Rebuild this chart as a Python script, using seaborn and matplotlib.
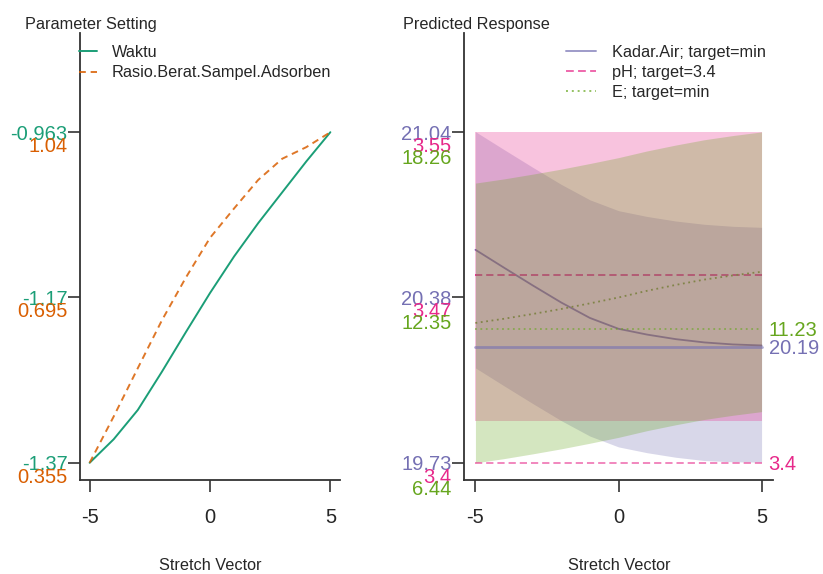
"""
Stretch-vector profile: parameter settings (left) and predicted responses
with bands (right), drawn in the style of an R optimisation trace.
"""

import numpy as np
import pandas as pd
import matplotlib.pyplot as plt
import matplotlib.transforms as mtransforms
from matplotlib.lines import Line2D
import seaborn as sns

sns.set_style("ticks")
plt.rcParams['font.family'] = ['Liberation Sans', 'DejaVu Sans']

# ---- data ----
stretch = [-5, -4, -3, -2, -1, 0, 1, 2, 3, 4, 5]

waktu = [-1.370, -1.341, -1.305, -1.258, -1.209, -1.161, -1.116, -1.075, -1.037, -0.999, -0.963]
rasio = [0.355, 0.451, 0.551, 0.650, 0.739, 0.821, 0.882, 0.941, 0.985, 1.009, 1.040]
waktu_ticks = ['-1.37', '-1.17', '-0.963']
rasio_ticks = ['0.355', '0.695', '1.04']

kadar_fit = [20.574, 20.503, 20.433, 20.365, 20.304, 20.261, 20.238, 20.220, 20.207, 20.199, 20.195]
kadar_lo = [20.106, 20.035, 19.965, 19.897, 19.836, 19.793, 19.770, 19.752, 19.739, 19.734, 19.733]
kadar_hi = [21.042, 20.971, 20.901, 20.833, 20.772, 20.729, 20.706, 20.688, 20.675, 20.667, 20.663]
kadar_ticks = ['19.73', '20.38', '21.04']

ph_fit = [3.485, 3.485, 3.485, 3.485, 3.485, 3.485, 3.485, 3.485, 3.485, 3.485, 3.485]
ph_lo = [3.419, 3.419, 3.419, 3.419, 3.419, 3.419, 3.419, 3.419, 3.419, 3.419, 3.419]
ph_hi = [3.550, 3.550, 3.550, 3.550, 3.550, 3.550, 3.550, 3.550, 3.550, 3.550, 3.550]
ph_ticks = ['3.4', '3.47', '3.55']

e_fit = [11.44, 11.59, 11.76, 11.94, 12.14, 12.35, 12.59, 12.80, 12.99, 13.14, 13.27]
e_lo = [6.44, 6.59, 6.76, 6.94, 7.14, 7.35, 7.59, 7.80, 7.99, 8.14, 8.27]
e_hi = [16.44, 16.59, 16.76, 16.94, 17.14, 17.35, 17.59, 17.80, 17.99, 18.14, 18.27]
e_ticks = ['6.44', '12.35', '18.26']

targets = [20.19, 3.4, 11.23]
target_labels = ['20.19', '3.4', '11.23']
resp_names = ['Kadar.Air; target=min', 'pH; target=3.4', 'E; target=min']
param_names = ['Waktu', 'Rasio.Berat.Sampel.Adsorben']

# Dark2 colours
c_waktu, c_rasio = '#1B9E77', '#D95F02'
c_kadar, c_ph, c_e = '#7570B3', '#E7298A', '#66A61E'

TICK_FS = 14.5
TEXT_FS = 11.7
W, H = 823, 574


def scale(vals, ticks):
    lo, hi = float(ticks[0]), float(ticks[-1])
    return (np.asarray(vals, dtype=float) - lo) / (hi - lo)


def style_axes(ax):
    sns.despine(ax=ax)
    for s in ('left', 'bottom'):
        ax.spines[s].set_color('#333333')
        ax.spines[s].set_linewidth(1.3)
    ax.set_xlim(-5.4, 5.4)
    ax.set_ylim(-0.052, 1.3)
    ax.set_xticks([-5, 0, 5])
    ax.set_xticklabels(['-5', '0', '5'], fontsize=TICK_FS)
    ax.set_yticks([0, 0.5, 1])
    ax.set_yticklabels([])
    ax.tick_params(length=8.5, width=1.2, color='#333333', pad=12)
    ax.set_xlabel('')
    ax.set_ylabel('')


def stacked_labels(fig, ax, groups):
    for k, (labels, color) in enumerate(groups):
        off = mtransforms.ScaledTranslation(-0.125, -0.02 - 0.122 * k, fig.dpi_scale_trans)
        tr = ax.get_yaxis_transform() + off
        for pos, lab in zip([0, 0.5, 1], labels):
            ax.text(0, pos, lab, transform=tr, ha='right', va='center',
                    color=color, fontsize=TICK_FS)


fig = plt.figure(figsize=(W / 100, H / 100), dpi=100)
ax1 = fig.add_axes([80 / W, 1 - 480 / H, 260 / W, 447 / H])
ax2 = fig.add_axes([464 / W, 1 - 480 / H, 309 / W, 447 / H])

# ---- left: parameter settings ----
params = pd.DataFrame({
    'stretch': stretch * 2,
    'value': np.concatenate([scale(waktu, waktu_ticks), scale(rasio, rasio_ticks)]),
    'param': [param_names[0]] * len(stretch) + [param_names[1]] * len(stretch),
})
sns.lineplot(data=params[params['param'] == param_names[0]], x='stretch', y='value',
             color=c_waktu, lw=1.4, ax=ax1, legend=False)
sns.lineplot(data=params[params['param'] == param_names[1]], x='stretch', y='value',
             color=c_rasio, lw=1.4, linestyle=(0, (3.5, 2.5)), alpha=0.85, ax=ax1, legend=False)
style_axes(ax1)
stacked_labels(fig, ax1, [(waktu_ticks, c_waktu), (rasio_ticks, c_rasio)])

h1 = [Line2D([], [], color=c_waktu, lw=1.4),
      Line2D([], [], color=c_rasio, lw=1.4, ls=(0, (3.5, 2.5)), alpha=0.85)]
ax1.legend(h1, param_names, loc='upper left', bbox_to_anchor=(79 / W, 1 - 45 / H),
           bbox_transform=fig.transFigure, frameon=False, fontsize=TEXT_FS,
           handlelength=1.1, handletextpad=0.9, labelspacing=0.33,
           borderpad=0, borderaxespad=0)

# ---- right: predicted responses ----
responses = [
    (kadar_fit, kadar_lo, kadar_hi, kadar_ticks, c_kadar, '-'),
    (ph_fit, ph_lo, ph_hi, ph_ticks, c_ph, (0, (4, 2.2))),
    (e_fit, e_lo, e_hi, e_ticks, c_e, (0, (1, 2))),
]
for fit, lo, hi, ticks, color, ls in responses:
    sns.lineplot(x=stretch, y=scale(fit, ticks), color=color, lw=1.3,
                 linestyle=ls, ax=ax2, legend=False, zorder=1)

# bands on top of the fitted lines
for fit, lo, hi, ticks, color, ls in responses:
    ax2.fill_between(stretch, scale(lo, ticks), scale(hi, ticks),
                     color=color, alpha=0.28, lw=0, zorder=2)

# target lines and their values at the right edge
for (fit, lo, hi, ticks, color, ls), tgt, lab in zip(responses, targets, target_labels):
    yv = scale([tgt, tgt], ticks)
    sns.lineplot(x=[stretch[0], stretch[-1]], y=yv, color=color,
                 lw=2.0 if ls == '-' else 1.3, linestyle=ls, alpha=0.6,
                 ax=ax2, legend=False, zorder=3)
    off = mtransforms.ScaledTranslation(0.07, -0.02, fig.dpi_scale_trans)
    ax2.text(stretch[-1], yv[0], lab, transform=ax2.transData + off,
             ha='left', va='center', color=color, fontsize=TICK_FS)

style_axes(ax2)
stacked_labels(fig, ax2, [(kadar_ticks, c_kadar), (ph_ticks, c_ph), (e_ticks, c_e)])

h2 = [Line2D([], [], color=c_kadar, lw=1.4, alpha=0.7),
      Line2D([], [], color=c_ph, lw=1.4, ls=(0, (4, 2.2)), alpha=0.7),
      Line2D([], [], color=c_e, lw=1.4, ls=(0, (1, 2)), alpha=0.7)]
ax2.legend(h2, resp_names, loc='upper left', bbox_to_anchor=(566 / W, 1 - 45 / H),
           bbox_transform=fig.transFigure, frameon=False, fontsize=TEXT_FS,
           handlelength=1.85, handletextpad=1.0, labelspacing=0.3,
           borderpad=0, borderaxespad=0)

# ---- titles and axis labels ----
fig.text(25 / W, 1 - 24 / H, 'Parameter Setting', ha='left', va='center', fontsize=TEXT_FS)
fig.text(403 / W, 1 - 24 / H, 'Predicted Response', ha='left', va='center', fontsize=TEXT_FS)
fig.text(210 / W, 1 - 566 / H, 'Stretch Vector', ha='center', va='center', fontsize=TEXT_FS)
fig.text(619 / W, 1 - 566 / H, 'Stretch Vector', ha='center', va='center', fontsize=TEXT_FS)

fig.savefig('out.png', dpi=100)
